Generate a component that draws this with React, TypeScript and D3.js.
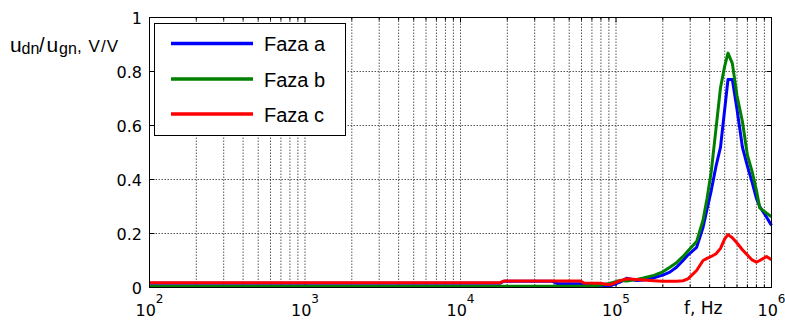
import * as React from 'react';
import { useEffect, useRef } from 'react';
import * as d3 from 'd3';

// frequency points, Hz
const freqs = [
  100, 1.8e4, 1.9e4, 3.9e4, 4.2e4, 5.9e4, 6.2e4, 7.9e4, 9.1e4, 1.06e5,
  1.17e5, 1.36e5, 1.5e5, 1.75e5, 2.0e5, 2.22e5, 2.45e5, 2.7e5, 2.9e5, 3.3e5,
  3.63e5, 3.85e5, 4.1e5, 4.4e5, 4.7e5, 5.0e5, 5.25e5, 5.6e5, 6.0e5, 6.5e5,
  7.0e5, 7.5e5, 8.0e5, 8.4e5, 9.3e5, 1e6,
];

const fazaA = [
  0.016, 0.016, 0.023, 0.023, 0.014, 0.014, 0.01, 0.004, 0.005, 0.02,
  0.034, 0.026, 0.028, 0.036, 0.046, 0.057, 0.075, 0.1, 0.12, 0.149,
  0.223, 0.29, 0.36, 0.45, 0.52, 0.66, 0.77, 0.77, 0.66, 0.52,
  0.45, 0.39, 0.33, 0.3, 0.26, 0.23,
];

const fazaB = [
  0.005, 0.005, 0.005, 0.005, 0.005, 0.005, 0.005, 0.008, 0.015, 0.026,
  0.024, 0.03, 0.035, 0.045, 0.058, 0.075, 0.092, 0.115, 0.135, 0.17,
  0.25, 0.33, 0.43, 0.59, 0.74, 0.82, 0.868, 0.83, 0.71, 0.615,
  0.49, 0.43, 0.36, 0.295, 0.275, 0.262,
];

const fazaC = [
  0.018, 0.018, 0.024, 0.024, 0.024, 0.024, 0.017, 0.016, 0.01, 0.025,
  0.032, 0.03, 0.028, 0.025, 0.023, 0.023, 0.023, 0.025, 0.032, 0.063,
  0.1, 0.108, 0.115, 0.125, 0.145, 0.18, 0.196, 0.184, 0.165, 0.14,
  0.12, 0.102, 0.094, 0.1, 0.115, 0.103,
];

const seriesNames = ['Faza a', 'Faza b', 'Faza c'];
const seriesColors = ['#0000ff', '#008000', '#ff0000'];
const yTicks = [0, 0.2, 0.4, 0.6, 0.8, 1];
const xDecades = [2, 3, 4, 5, 6];

export default function App() {
  const ref = useRef<SVGSVGElement>(null);

  useEffect(() => {
    const svg = d3.select(ref.current);
    svg.selectAll('*').remove();

    const left = 149.5, right = 771.5, top = 17.5, bottom = 287.5;
    const x = d3.scaleLog().domain([100, 1e6]).range([left, right]);
    const y = d3.scaleLinear().domain([0, 1]).range([bottom, top]);

    const majors = xDecades.map(k => Math.pow(10, k));
    const minors: number[] = [];
    xDecades.slice(0, -1).forEach(k => {
      for (let m = 2; m <= 9; m++) minors.push(m * Math.pow(10, k));
    });

    // grid
    const grid = svg.append('g')
      .attr('stroke', '#444')
      .attr('stroke-width', 0.9)
      .attr('stroke-dasharray', '1.5,1.5');
    grid.selectAll('line.v')
      .data([...minors, ...majors.slice(1, -1)])
      .enter().append('line')
      .attr('x1', d => x(d)).attr('x2', d => x(d))
      .attr('y1', top).attr('y2', bottom);
    grid.selectAll('line.h')
      .data(yTicks.slice(1, -1))
      .enter().append('line')
      .attr('x1', left).attr('x2', right)
      .attr('y1', d => y(d)).attr('y2', d => y(d));

    // ticks, inward
    const ticks = svg.append('g').attr('stroke', '#000').attr('stroke-width', 1);
    [...majors.map(d => [d, 5]), ...minors.map(d => [d, 3])].forEach(([d, len]) => {
      ticks.append('line').attr('x1', x(d)).attr('x2', x(d)).attr('y1', bottom).attr('y2', bottom - len);
      ticks.append('line').attr('x1', x(d)).attr('x2', x(d)).attr('y1', top).attr('y2', top + len);
    });
    yTicks.forEach(d => {
      ticks.append('line').attr('x1', left).attr('x2', left + 5).attr('y1', y(d)).attr('y2', y(d));
      ticks.append('line').attr('x1', right).attr('x2', right - 5).attr('y1', y(d)).attr('y2', y(d));
    });

    // data lines
    const line = d3.line<number>()
      .x((_, i) => x(freqs[i]))
      .y(d => y(d));
    [fazaA, fazaB, fazaC].forEach((vals, i) => {
      svg.append('path')
        .datum(vals)
        .attr('d', line)
        .attr('fill', 'none')
        .attr('stroke', seriesColors[i])
        .attr('stroke-width', 3)
        .attr('stroke-linejoin', 'round');
    });

    // frame
    svg.append('rect')
      .attr('x', left).attr('y', top)
      .attr('width', right - left).attr('height', bottom - top)
      .attr('fill', 'none').attr('stroke', '#000').attr('stroke-width', 1);

    // y tick labels
    svg.append('g')
      .selectAll('text')
      .data(yTicks)
      .enter().append('text')
      .attr('x', 142).attr('y', d => y(d) + 6)
      .attr('text-anchor', 'end')
      .attr('font-family', 'DejaVu Sans')
      .attr('font-size', 16)
      .text(d => String(d));

    // x tick labels
    xDecades.forEach(k => {
      const t = svg.append('text')
        .attr('x', x(Math.pow(10, k)))
        .attr('y', 316)
        .attr('text-anchor', 'middle')
        .attr('font-family', 'DejaVu Sans')
        .attr('font-size', 16);
      t.append('tspan').text('10');
      t.append('tspan').attr('dy', -13).attr('font-size', 12).text(String(k));
    });

    svg.append('text')
      .attr('x', 684).attr('y', 314)
      .attr('font-family', 'DejaVu Sans')
      .attr('font-size', 17)
      .text('f, Hz');

    // y axis label
    const yl = svg.append('text')
      .attr('y', 52)
      .attr('font-family', 'Liberation Sans, Arial, sans-serif');
    yl.append('tspan').attr('x', 10).attr('font-size', 21).text('u');
    yl.append('tspan').attr('x', 21.5).attr('dy', 2).attr('font-size', 16).text('dn');
    yl.append('tspan').attr('x', 39).attr('dy', -2).attr('font-size', 20).text('/');
    yl.append('tspan').attr('x', 46.5).attr('font-size', 21).text('u');
    yl.append('tspan').attr('x', 59).attr('dy', 2).attr('font-size', 16).text('gn');
    yl.append('tspan').attr('x', 77).attr('dy', -2).attr('font-size', 17)
      .attr('textLength', 41).text(', V/V');

    // legend
    const lg = svg.append('g');
    lg.append('rect')
      .attr('x', 154.5).attr('y', 23.5).attr('width', 191).attr('height', 112)
      .attr('fill', '#fff').attr('stroke', '#000').attr('stroke-width', 1);
    const rows = [43.5, 79, 114];
    seriesNames.forEach((name, i) => {
      lg.append('line')
        .attr('x1', 171).attr('x2', 253)
        .attr('y1', rows[i]).attr('y2', rows[i])
        .attr('stroke', seriesColors[i]).attr('stroke-width', 3.5);
      lg.append('text')
        .attr('x', 264).attr('y', rows[i] + 7.5)
        .attr('font-family', 'Liberation Sans, Arial, sans-serif')
        .attr('font-size', 20)
        .text(name);
    });
  }, []);

  return (
    <div style={{ position: 'absolute', left: 0, top: 0 }}>
      <svg ref={ref} width={785} height={320} style={{ display: 'block', background: '#fff' }} />
    </div>
  );
}
